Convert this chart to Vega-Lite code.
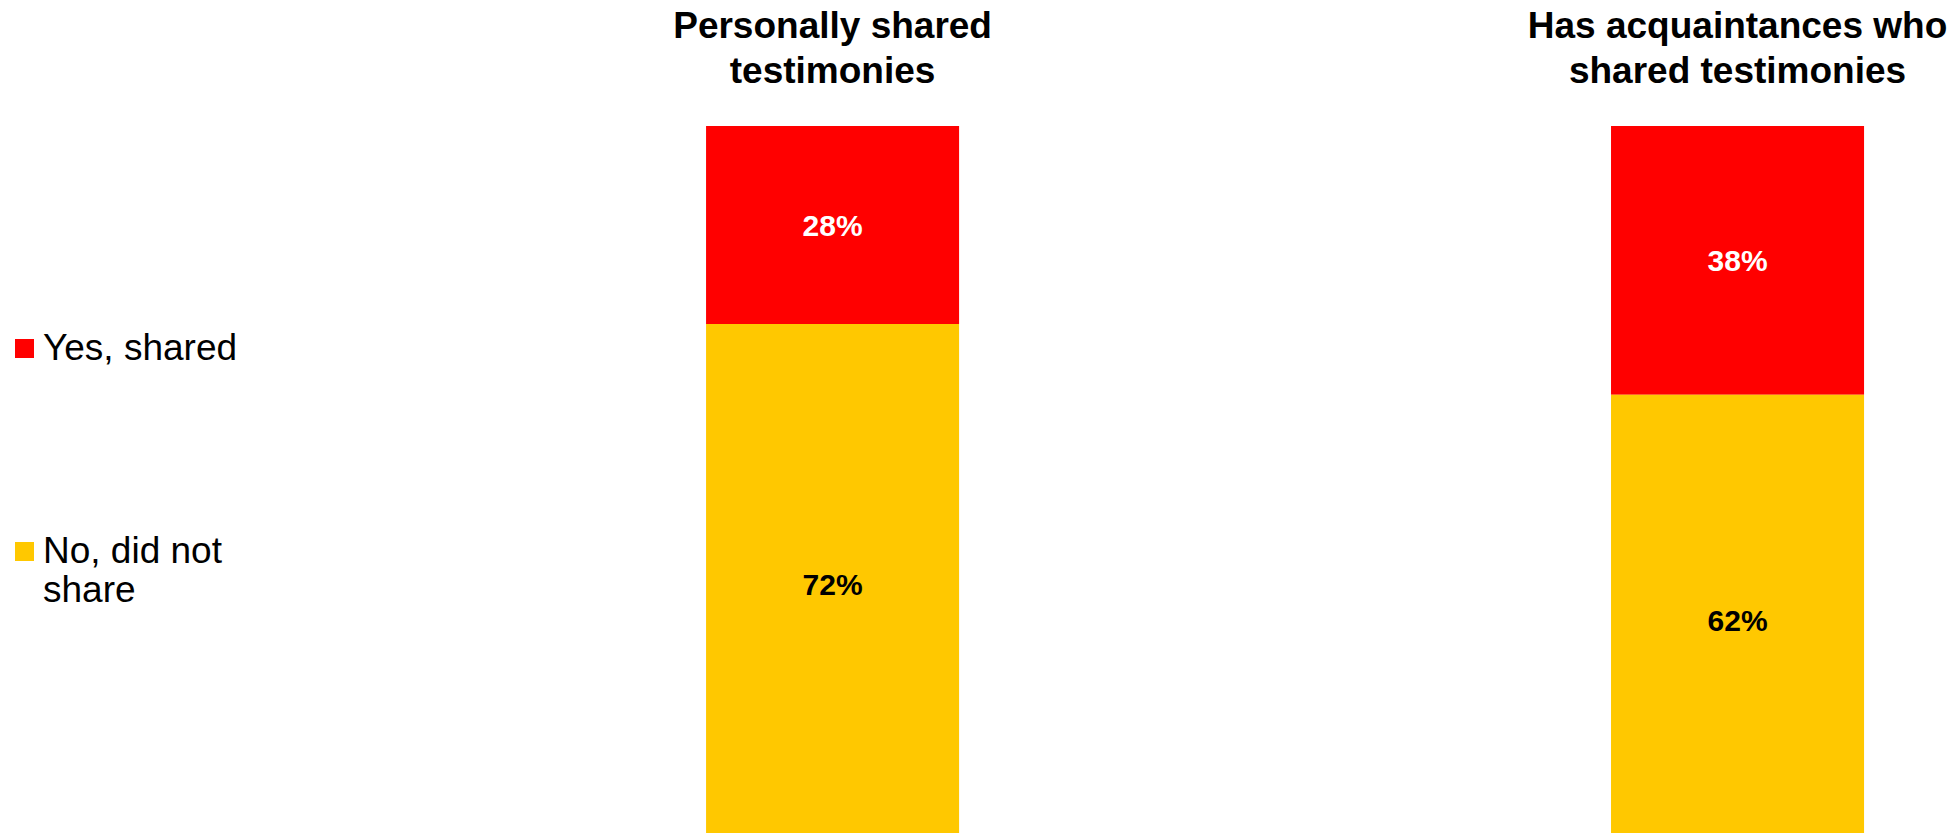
{
  "$schema": "https://vega.github.io/schema/vega-lite/v6.json",
  "autosize": {"type": "none"},
  "padding": {"top": 126, "left": 0, "right": 0, "bottom": 0},
  "width": 1954,
  "height": 707,
  "background": "white",
  "config": {
    "view": {"stroke": null},
    "font": "Liberation Sans"
  },
  "data": {
    "values": [
      {"group": "Personally shared testimonies", "series": "Yes, shared", "value": 0.28},
      {"group": "Personally shared testimonies", "series": "No, did not share", "value": 0.72},
      {"group": "Has acquaintances who shared testimonies", "series": "Yes, shared", "value": 0.38},
      {"group": "Has acquaintances who shared testimonies", "series": "No, did not share", "value": 0.62}
    ]
  },
  "encoding": {
    "x": {
      "field": "group",
      "type": "nominal",
      "sort": ["Personally shared testimonies", "Has acquaintances who shared testimonies"],
      "scale": {"paddingInner": 0.7204, "paddingOuter": 0.4398, "align": 0.887},
      "axis": {
        "orient": "top",
        "title": null,
        "domain": false,
        "ticks": false,
        "labelAngle": 0,
        "labelFont": "Liberation Sans",
        "labelFontSize": 37,
        "labelFontWeight": "bold",
        "labelColor": "black",
        "labelLimit": 0,
        "labelPadding": 81,
        "labelLineHeight": 45,
        "labelOverlap": false,
        "labelExpr": "datum.value == 'Personally shared testimonies' ? ['Personally shared', 'testimonies'] : ['Has acquaintances who', 'shared testimonies']"
      }
    },
    "y": {
      "field": "value",
      "type": "quantitative",
      "stack": "zero",
      "scale": {"domain": [0, 1], "nice": false},
      "axis": null
    },
    "order": {"field": "series", "sort": "ascending"}
  },
  "layer": [
    {
      "mark": {"type": "bar"},
      "encoding": {
        "color": {
          "field": "series",
          "type": "nominal",
          "scale": {"domain": ["Yes, shared", "No, did not share"], "range": ["#FF0000", "#FFC800"]},
          "legend": {
            "orient": "none",
            "legendX": 6,
            "legendY": 204,
            "title": null,
            "padding": 0,
            "symbolType": "square",
            "symbolSize": 361,
            "symbolStrokeWidth": 0,
            "labelFont": "Liberation Sans",
            "labelFontSize": 37,
            "labelColor": "black",
            "labelLimit": 0,
            "labelOffset": 0,
            "rowPadding": 165,
            "labelExpr": "datum.label == 'No, did not share' ? ['No, did not', 'share'] : datum.label",
            "encoding": {"labels": {"update": {"lineHeight": {"value": 44}}}}
          }
        }
      }
    },
    {
      "mark": {"type": "text", "fontSize": 30, "fontWeight": "bold", "font": "Liberation Sans", "baseline": "middle", "color": "white", "dy": 2},
      "encoding": {
        "y": {"field": "value", "type": "quantitative", "stack": "zero", "bandPosition": 0.5},
        "text": {"field": "value", "type": "quantitative", "format": ".0%"},
        "opacity": {"condition": {"test": "datum.series == 'Yes, shared'", "value": 1}, "value": 0}
      }
    },
    {
      "mark": {"type": "text", "fontSize": 30, "fontWeight": "bold", "font": "Liberation Sans", "baseline": "middle", "color": "black", "dy": 8},
      "encoding": {
        "y": {"field": "value", "type": "quantitative", "stack": "zero", "bandPosition": 0.5},
        "text": {"field": "value", "type": "quantitative", "format": ".0%"},
        "opacity": {"condition": {"test": "datum.series == 'No, did not share'", "value": 1}, "value": 0}
      }
    }
  ]
}
